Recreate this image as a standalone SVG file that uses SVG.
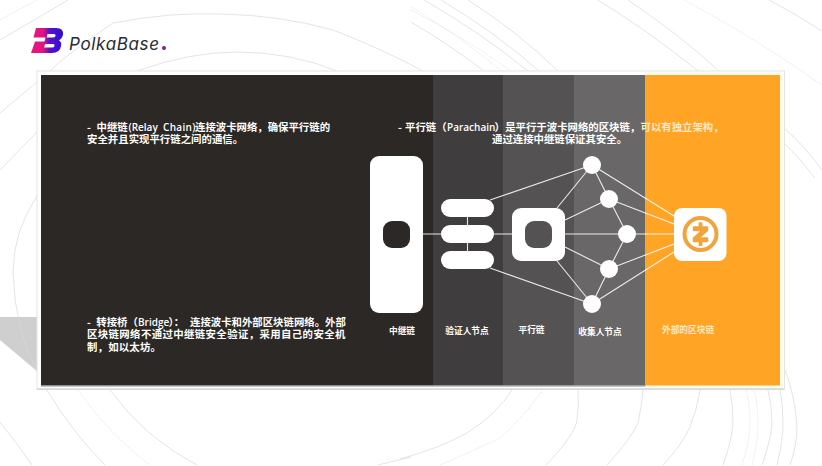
<svg xmlns="http://www.w3.org/2000/svg" width="822" height="466" viewBox="0 0 822 466">
<defs>
<linearGradient id="lg" gradientUnits="userSpaceOnUse" x1="31" y1="0" x2="63" y2="0"><stop offset="0" stop-color="#ea1580"/><stop offset="0.38" stop-color="#e0157f"/><stop offset="0.58" stop-color="#5a10c8"/><stop offset="1" stop-color="#2c0edc"/></linearGradient>
</defs>
<style>
.t{font-family:"Noto Sans CJK SC","Noto Sans",sans-serif;font-weight:700;font-size:10.4px;fill:#fff}
.la{font-family:"Open Sans","Noto Sans",sans-serif;font-weight:600;font-size:10px}
.p{fill:#ffe9c6}
.l{font-family:"Noto Sans CJK SC",sans-serif;font-weight:700;font-size:8.7px;fill:#fff;text-anchor:middle}
.a{fill:none;stroke:#d9d9d9;stroke-width:.7}
.d{fill:none;stroke:#d9d9d9;stroke-width:.7;stroke-dasharray:1 1}
.c{fill:none;stroke:#fff;stroke-opacity:.88;stroke-width:1.1}
.n{fill:#fff}
</style>
<rect width="822" height="466" fill="#fff"/>
<polygon points="0,317 38,317 38,372 0,340" fill="#cfcfcf"/>
<g id="background-arcs">
<path class="d" d="M0 20L37 0"/>
<path class="a" d="M0 40L68 0"/>
<path class="a" d="M50 71Q63 57 113 23Q170 12 220 14Q280 15 333 30Q380 48 423 71"/>
<path class="a" d="M137 71Q190 52 237 52Q290 52 337 71"/>
<path class="a" d="M411 22Q450 45 484 71"/>
<path class="d" d="M411 7Q460 36 501 71"/>
<path class="d" d="M411 10Q465 38 511 71"/>
<path class="a" d="M424 0Q480 32 528 71"/>
<path class="a" d="M441 0Q495 32 539 71"/>
<path class="a" d="M468 0Q518 32 558 71"/>
<path class="a" d="M598 0Q650 32 698 71"/>
<path class="a" d="M628 0Q680 35 719 71"/>
<path class="d" d="M684 0Q750 35 822 85"/>
<path class="a" d="M769 0Q796 14 822 31"/>
<path class="a" d="M784 128Q805 146 822 170"/>
<path class="a" d="M784 143Q800 158 815 178"/>
<path class="a" d="M0 113L37 82"/>
<path class="a" d="M0 170L37 132"/>
<path class="a" d="M37 196Q13 232 13 273Q15 330 37 372"/>
<path class="a" d="M0 422Q16 442 32 465"/>
<path class="a" d="M47 390Q72 432 105 465"/>
<path class="d" d="M78 390Q110 435 150 465"/>
<path class="a" d="M110 390Q145 438 197 465"/>
<path class="a" d="M378 465L411 457"/>
<path class="a" d="M400 459Q440 448 467 433Q498 413 512 390"/>
<path class="d" d="M440 465Q475 450 500 438Q530 410 542 390"/>
<path class="a" d="M546 465Q575 435 577 420Q579 405 578 390"/>
<path class="a" d="M607 465Q630 440 638 423Q642 405 643 390"/>
<path class="a" d="M663 465Q682 445 690 427Q697 410 700 390"/>
<path class="a" d="M723 465Q732 440 733 423Q733 405 730 390"/>
<path class="d" d="M742 465Q750 440 750 423Q750 405 746 390"/>
<path class="d" d="M752 465Q758 440 758 423Q758 405 754 390"/>
<path class="a" d="M762 465Q771 440 772 423Q772 405 768 390"/>
<path class="a" d="M777 465Q783 440 783 423Q783 405 780 390"/>
<path class="a" d="M790 465Q797 445 797 427Q795 395 785 370"/>
</g>
<rect x="37" y="71" width="747.500" height="318" fill="#fff" stroke="#e4e4e4" stroke-width="1"/>
<rect x="37" y="388.500" width="747.500" height="1.200" fill="#cfcfcf"/>
<rect x="645.500" y="72" width="138" height="316" fill="#fffbea"/>
<g id="columns">
<rect x="41" y="75" width="392" height="310.500" fill="#2b2826"/>
<rect x="433" y="75" width="70" height="310.500" fill="#3f3d3d"/>
<rect x="503" y="75" width="71" height="310.500" fill="#545253"/>
<rect x="574" y="75" width="71.500" height="310.500" fill="#696768"/>
<rect x="645.500" y="75" width="134.500" height="310.500" fill="#ffa424"/>
<rect x="41" y="385.500" width="604.500" height="1" fill="#8a8a8a"/>
</g>
<g id="logo">
<path d="M36 28H56Q64 28 63 35Q62 39 59 40.500Q62 42 61 46Q60 53 52 53H31L35 41.500H44.500L45.500 37.500H33.500Z" fill="url(#lg)"/>
<path d="M47.500 34H54Q56 34 55.500 36Q55 37.500 53 37.500H46.700ZM45 44H53Q55 44 54.500 46Q54 47.500 52 47.500H44.200Z" fill="#fff"/>
<text x="69" y="50" font-family="Inter,Lato,sans-serif" font-size="17" font-style="italic" fill="#262b36" textLength="90">PolkaBase</text>
<circle cx="164" cy="48" r="2" fill="#8e1a86"/>
</g>
<g id="connectors">
<path class="c" d="M423 234H441M494 234H512M467.500 217V225M467.500 243V251"/>
<path class="c" d="M490 200L592 165M490 268L592 304"/>
<path class="c" d="M557 208L592 165M565 220L609 199M565 234H627M565 247L609 269M557 261L592 304"/>
<path class="c" d="M592 165L609 199L627 234L609 269L592 304"/>
<path class="c" d="M592 165L674 216M609 199L674 224M627 234H674M609 269L674 244M592 304L674 252"/>
</g>
<g id="relay-chain"><rect class="n" x="370" y="156" width="53" height="157" rx="9"/><rect x="383" y="221" width="27" height="27" rx="9" fill="#2b2826"/><text class="l" x="402" y="334">中继链</text></g>
<g id="validators"><rect class="n" x="441" y="199" width="53" height="18" rx="9"/><rect class="n" x="441" y="225" width="53" height="18" rx="9"/><rect class="n" x="441" y="251" width="53" height="18" rx="9"/><text class="l" x="467" y="334">验证人节点</text></g>
<g id="parachain"><rect class="n" x="512" y="208" width="53" height="53" rx="9"/><rect x="525" y="221" width="27" height="27" rx="9" fill="#545253"/><text class="l" x="531.500" y="333">平行链</text></g>
<g id="collators"><circle class="n" cx="592" cy="165" r="9"/><circle class="n" cx="609" cy="199" r="9"/><circle class="n" cx="627" cy="234" r="9"/><circle class="n" cx="609" cy="269" r="9"/><circle class="n" cx="592" cy="304" r="9"/><text class="l" x="600" y="335">收集人节点</text></g>
<g id="external-chain"><rect class="n" x="674" y="208" width="52.500" height="53" rx="8"/><circle cx="700.500" cy="234" r="16" fill="none" stroke="#f2a43c" stroke-width="4"/><path d="M700.500 222.500V227M700.500 241V246M693.500 227H707.500V230.500L699 238H707.500V241.500H693.500V238L702 230.500H693.500Z" fill="#f2a43c" stroke="#f2a43c" stroke-width="1.500" stroke-linejoin="bevel"/><path d="M700.500 222.500V228M700.500 240.500V246" stroke="#f2a43c" stroke-width="3.800" fill="none"/><text class="l" x="688" y="333" style="fill:#ffe9c6">外部的区块链</text></g>
<g id="descriptions">
<text class="t" y="130.500"><tspan x="87">-</tspan><tspan x="96.500">中继链</tspan><tspan class="la" x="128.500">(Relay </tspan><tspan class="la" x="163" letter-spacing=".3">Chain)</tspan><tspan x="195">连接波卡网络，</tspan><tspan x="267.700">确保平行链的</tspan></text>
<text class="t" x="87" y="143" letter-spacing=".02">安全并且实现平行链之间的通信。</text>
<text class="t" y="130.500"><tspan x="398">-</tspan><tspan x="405">平行链（</tspan><tspan class="la" x="447">Parachain</tspan><tspan x="494.600">）</tspan><tspan x="505.200">是平行于波卡网络的区块链，</tspan><tspan x="640.500" class="p">可以有独立架构，</tspan></text>
<text class="t" x="492" y="143">通过连接中继链保证其安全。</text>
<text class="t" y="325.500"><tspan x="87">-</tspan><tspan x="96.300">转接桥（</tspan><tspan class="la" x="138">Bridge</tspan><tspan x="168.500">）：</tspan><tspan x="190">连接波卡和外部区块链网络。外部</tspan></text>
<text class="t" x="87" y="338" letter-spacing=".39">区块链网络不通过中继链安全验证，采用自己的安全机</text>
<text class="t" x="87" y="351" letter-spacing=".2">制，如以太坊。</text>
</g>
</svg>
